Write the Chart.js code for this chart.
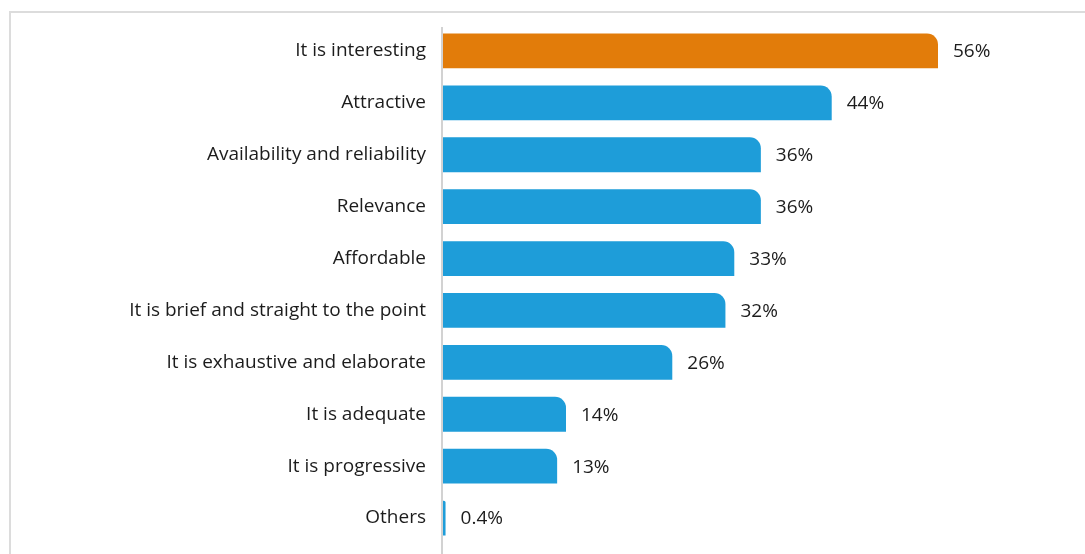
<!DOCTYPE html>
<html>
<head>
<meta charset="utf-8">
<script src="https://cdn.jsdelivr.net/npm/chart.js@4.4.1/dist/chart.umd.min.js"></script>
<style>
    html, body { margin: 0; padding: 0; background: #fff; }
    #wrap { position: relative; width: 1085px; height: 554px; }
    #frame {
        position: absolute; left: 9px; top: 11px; right: 0; bottom: 0;
        border-left: 2px solid #dcdcdc; border-top: 2px solid #dcdcdc;
        pointer-events: none;
    }
</style>
</head>
<body>
<div id="wrap">
    <canvas id="chart" width="1085" height="554"></canvas>
    <div id="frame"></div>
</div>
<script>
const categories = [
    "It is interesting",
    "Attractive",
    "Availability and reliability",
    "Relevance",
    "Affordable",
    "It is brief and straight to the point",
    "It is exhaustive and elaborate",
    "It is adequate",
    "It is progressive",
    "Others",
];
const shares = [56, 44, 36, 36, 33, 32, 26, 14, 13, 0.4];
const valueLabels = ["56%", "44%", "36%", "36%", "33%", "32%", "26%", "14%", "13%", "0.4%"];

const ORANGE = "#e27c0a";
const BLUE = "#1e9dd9";
const FONT = "'Open Sans', 'Noto Sans', sans-serif";

// value text at the end of each bar
const valueLabelPlugin = {
    id: "valueLabels",
    afterDatasetsDraw(chart) {
        const { ctx } = chart;
        const meta = chart.getDatasetMeta(0);
        ctx.save();
        ctx.font = `19px ${FONT}`;
        ctx.fillStyle = "#1c1c1c";
        ctx.textAlign = "left";
        ctx.textBaseline = "middle";
        meta.data.forEach((bar, i) => {
            ctx.fillText(valueLabels[i], bar.x + 15, bar.y + 1);
        });
        ctx.restore();
    },
};

// vertical axis line, running down to the bottom edge
const axisLinePlugin = {
    id: "axisLine",
    afterDraw(chart) {
        const { ctx, chartArea } = chart;
        ctx.save();
        ctx.fillStyle = "#d2d2d2";
        ctx.fillRect(chartArea.left - 1, chartArea.top + 2, 2, chart.height);
        ctx.restore();
    },
};

new Chart(document.getElementById("chart"), {
    type: "bar",
    data: {
        labels: categories,
        datasets: [{
            data: shares,
            backgroundColor: shares.map((_, i) => (i === 0 ? ORANGE : BLUE)),
            borderRadius: { topRight: 11 },
            borderSkipped: "start",
            categoryPercentage: 1,
            barPercentage: 0.67,
        }],
    },
    options: {
        indexAxis: "y",
        responsive: false,
        animation: false,
        layout: { padding: { top: 25, bottom: 10, right: 23, left: 0 } },
        scales: {
            x: {
                display: false,
                min: 0,
                max: 70,
            },
            y: {
                afterFit(scale) {
                    scale.width = 442;
                    scale.paddingTop = 0;
                    scale.paddingBottom = 0;
                },
                grid: { display: false, drawTicks: false },
                border: { display: false },
                ticks: {
                    padding: 16,
                    color: "#1c1c1c",
                    font: { family: FONT, size: 19 },
                },
            },
        },
        plugins: {
            legend: { display: false },
            tooltip: { enabled: false },
        },
    },
    plugins: [valueLabelPlugin, axisLinePlugin],
});
</script>
</body>
</html>
